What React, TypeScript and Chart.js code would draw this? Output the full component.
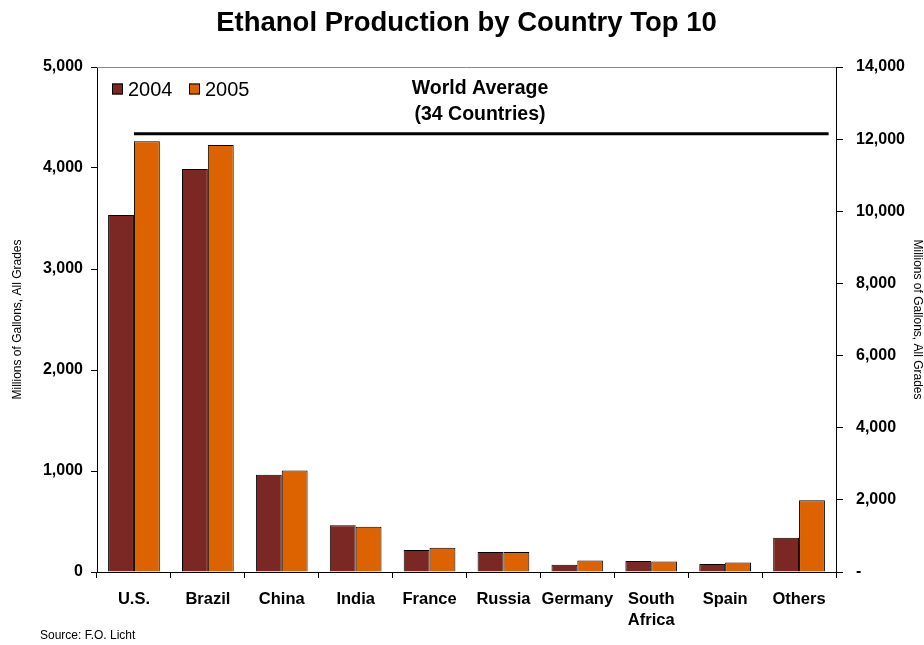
import React, { useEffect, useRef } from "react";
import { Chart, registerables } from "chart.js";

Chart.register(...registerables);

const categories: (string | string[])[] = ["U.S.", "Brazil", "China", "India", "France", "Russia", "Germany", ["South", "Africa"], "Spain", "Others"];
const seriesLabels = ["2004", "2005"];
const values2004 = [3535, 3989, 964, 462, 219, 198, 71, 110, 79, 338];
const values2005 = [4264, 4227, 1004, 449, 240, 198, 114, 103, 93, 710];
const seriesColors = ["#7B2824", "#DD6200"];
const worldLineX = [0, 9.4];
const worldAverage = 12150;
const leftTicks = [0, 1000, 2000, 3000, 4000, 5000];
const rightTicks = [0, 2000, 4000, 6000, 8000, 10000, 12000, 14000];

const FONT = "Arial, 'Liberation Sans', Helvetica, sans-serif";

const decorPlugin = {
  id: "decor",
  afterDraw(chart: any) {
    const { ctx, chartArea } = chart;
    ctx.save();
    // top border of plot area
    ctx.strokeStyle = "#888";
    ctx.lineWidth = 1;
    ctx.beginPath();
    ctx.moveTo(chartArea.left, chartArea.top + 0.5);
    ctx.lineTo(chartArea.right, chartArea.top + 0.5);
    ctx.stroke();

    // world average line, placed through the scales
    const xs = chart.scales.x;
    const y1 = chart.scales.y1;
    const yLine = y1.getPixelForValue(worldAverage);
    ctx.strokeStyle = "#000";
    ctx.lineWidth = 3;
    ctx.beginPath();
    ctx.moveTo(xs.getPixelForValue(worldLineX[0]), yLine);
    ctx.lineTo(xs.getPixelForValue(worldLineX[1]), yLine);
    ctx.stroke();

    // title
    ctx.fillStyle = "#000";
    ctx.textAlign = "center";
    ctx.textBaseline = "middle";
    ctx.font = `bold 27.5px ${FONT}`;
    ctx.fillText("Ethanol Production by Country Top 10", (chartArea.left + chartArea.right) / 2, 23);

    // world average label
    ctx.textBaseline = "alphabetic";
    ctx.font = `bold 19.5px ${FONT}`;
    ctx.fillText("World Average", 480, yLine - 40);
    ctx.fillText("(34 Countries)", 480, yLine - 14);

    // legend
    const legendX = [112, 189];
    const legendY = 89;
    ctx.font = `20px ${FONT}`;
    ctx.textAlign = "left";
    ctx.textBaseline = "middle";
    chart.data.datasets.forEach((ds: any, i: number) => {
      const bx = legendX[i];
      ctx.fillStyle = ds.backgroundColor;
      ctx.fillRect(bx, legendY - 5.5, 11, 11);
      ctx.strokeStyle = "#000";
      ctx.lineWidth = 1;
      ctx.strokeRect(bx + 0.5, legendY - 5.5 + 0.5, 10, 10);
      ctx.fillStyle = "#000";
      ctx.fillText(ds.label, bx + 16, legendY + 1);
    });

    // source
    ctx.textAlign = "left";
    ctx.textBaseline = "middle";
    ctx.font = `12px ${FONT}`;
    ctx.fillText("Source: F.O. Licht", 40, 636);
    ctx.restore();
  },
};

export default function App() {
  const ref = useRef<HTMLCanvasElement>(null);
  useEffect(() => {
    if (!ref.current) return;
    const chart = new Chart(ref.current, {
      type: "bar",
      data: {
        labels: categories as any,
        datasets: [
          {
            label: seriesLabels[0],
            data: values2004,
            backgroundColor: seriesColors[0],
            borderColor: "#000",
            borderWidth: 1,
            yAxisID: "y",
            categoryPercentage: 0.7,
            barPercentage: 1,
          },
          {
            label: seriesLabels[1],
            data: values2005,
            backgroundColor: seriesColors[1],
            borderColor: "#000",
            borderWidth: 1,
            yAxisID: "y",
            categoryPercentage: 0.7,
            barPercentage: 1,
          },
        ],
      },
      options: {
        animation: false,
        responsive: true,
        maintainAspectRatio: false,
        layout: { padding: { top: 67, left: 0, right: 0, bottom: 0 } },
        plugins: {
          title: { display: false },
          tooltip: { enabled: false },
          legend: { display: false },
        },
        scales: {
          x: {
            type: "category",
            offset: true,
            grid: { display: true, drawOnChartArea: false, drawTicks: true, tickLength: 6, color: "#000", offset: true },
            border: { display: true, color: "#000", width: 1 },
            ticks: {
              color: "#000",
              font: { family: FONT, size: 16.5, weight: "bold", lineHeight: 1.33 },
              padding: 10,
              maxRotation: 0,
              autoSkip: false,
            },
            afterFit: (s: any) => { s.height = 73; },
          },
          y: {
            position: "left",
            min: 0,
            max: 5000,
            afterBuildTicks: (s: any) => { s.ticks = leftTicks.map((v) => ({ value: v })); },
            grid: { display: true, drawOnChartArea: false, drawTicks: true, tickLength: 6, color: "#000" },
            border: { display: true, color: "#000", width: 1 },
            ticks: {
              color: "#000",
              padding: 8,
              font: { family: FONT, size: 16, weight: "bold" },
              callback: (v: any) => (v === 0 ? "0" : Number(v).toLocaleString("en-US")),
            },
            title: {
              display: true,
              text: "Millions of Gallons, All Grades",
              color: "#000",
              font: { family: FONT, size: 12 },
              padding: { top: 10, bottom: 0 },
            },
            afterFit: (s: any) => { s.width = 97; },
          },
          y1: {
            position: "right",
            min: 0,
            max: 14000,
            afterBuildTicks: (s: any) => { s.ticks = rightTicks.map((v) => ({ value: v })); },
            grid: { display: true, drawOnChartArea: false, drawTicks: true, tickLength: 7, color: "#000" },
            border: { display: true, color: "#000", width: 1 },
            ticks: {
              color: "#000",
              padding: 13,
              font: { family: FONT, size: 16, weight: "bold" },
              callback: (v: any) => (v === 0 ? "-" : Number(v).toLocaleString("en-US")),
            },
            title: {
              display: true,
              text: "Millions of Gallons, All Grades",
              color: "#000",
              font: { family: FONT, size: 12 },
              padding: { top: -1, bottom: 0 },
            },
            afterFit: (s: any) => { s.width = 88; },
          },
        },
      },
      plugins: [decorPlugin],
    } as any);
    return () => chart.destroy();
  }, []);
  return (
    <div style={{ position: "absolute", left: 0, top: 0, width: 924, height: 645, background: "#fff" }}>
      <canvas ref={ref} />
    </div>
  );
}
